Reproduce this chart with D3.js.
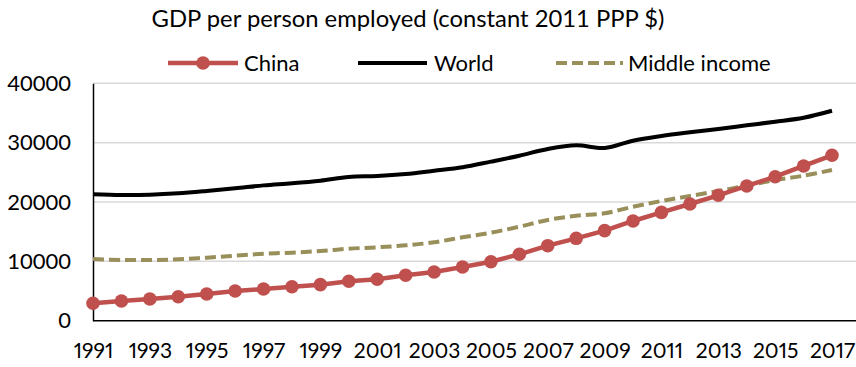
<!DOCTYPE html>
<html><head><meta charset="utf-8">
<script src="https://cdn.jsdelivr.net/npm/d3@7"></script>
<style>
html,body{margin:0;padding:0;background:#fff;}
svg{display:block;font-family:Lato, "Open Sans", sans-serif;}
.xl{font-variant-numeric: proportional-nums;}
</style></head>
<body><svg id="chart" width="856" height="367"></svg>
<script>
const years = d3.range(1991, 2018);
const xTickLabels = ["1991","1993","1995","1997","1999","2001","2003","2005","2007","2009","2011","2013","2015","2017"];
const yTicks = [0, 10000, 20000, 30000, 40000];
const chinaValues = [2930,3320,3650,4040,4500,5000,5340,5730,6070,6640,6980,7650,8200,9050,9940,11190,12640,13880,15170,16800,18260,19660,21130,22700,24260,26070,27870];
const worldValues = [21300,21180,21230,21460,21850,22300,22800,23150,23590,24210,24380,24720,25270,25850,26800,27800,28930,29550,29100,30330,31120,31740,32300,32920,33530,34200,35380];
const middleValues = [10400,10230,10230,10340,10620,10950,11290,11460,11740,12130,12370,12700,13210,14050,14830,15840,16970,17690,18100,19210,20170,21010,21850,22750,23710,24430,25390];
const seriesNames = ["China","World","Middle income"];
const titleText = "GDP per person employed (constant 2011 PPP $)";

const svg = d3.select("#chart");
const pLeft = 93, pRight = 832, gridRight = 856, pTop = 83.3, pBottom = 320.7;
const x = d3.scalePoint().domain(years).range([pLeft, pRight]);
const y = d3.scaleLinear().domain([0, 40000]).range([pBottom, pTop]);

const red = "#C0504D", olive = "#998F5A";

// title
svg.append("text").attr("x", 408).attr("y", 27).attr("text-anchor","middle")
  .attr("font-size", 23.8).attr("fill","#000").text(titleText);

// gridlines
svg.append("g").selectAll("line").data(yTicks.filter(d=>d>0)).join("line")
  .attr("x1", pLeft).attr("x2", gridRight).attr("y1", d=>y(d)).attr("y2", d=>y(d))
  .attr("stroke", "#D9D9D9").attr("stroke-width", 1.5);

// y axis
const yAxis = d3.axisLeft(y).tickValues(yTicks).tickSize(0).tickPadding(22).tickFormat(d3.format("d"));
const gy = svg.append("g").attr("transform", `translate(${pLeft},0)`).call(yAxis);
gy.select(".domain").attr("stroke","#000").attr("stroke-width",1.5);
gy.selectAll("text").attr("font-size",22).attr("font-family","Lato").attr("fill","#000");

// x axis
const xAxis = d3.axisBottom(x).tickValues(xTickLabels.map(Number)).tickSize(0).tickPadding(22).tickFormat(d=>String(d));
const gx = svg.append("g").attr("transform", `translate(0,${pBottom})`).call(xAxis);
gx.select(".domain").attr("stroke","#000").attr("stroke-width",1.5).attr("d", `M${pLeft},0H${gridRight}`);
gx.selectAll("text").attr("class","xl").attr("font-size",21).attr("font-family","Lato").attr("fill","#000");

// lines
const smooth = d3.line().x((d,i)=>x(years[i])).y(d=>y(d)).curve(d3.curveCatmullRom.alpha(0.5));
const straight = d3.line().x((d,i)=>x(years[i])).y(d=>y(d));

svg.append("path").datum(middleValues).attr("d", smooth).attr("fill","none")
  .attr("stroke", olive).attr("stroke-width", 4).attr("stroke-dasharray","11,5");
svg.append("path").datum(worldValues).attr("d", smooth).attr("fill","none")
  .attr("stroke", "#000").attr("stroke-width", 4);
svg.append("path").datum(chinaValues).attr("d", straight).attr("fill","none")
  .attr("stroke", red).attr("stroke-width", 4.5);
svg.append("g").selectAll("circle").data(chinaValues).join("circle")
  .attr("cx",(d,i)=>x(years[i])).attr("cy", d=>y(d)).attr("r", 6.8).attr("fill", red);

// legend
const ly = 63;
const leg = svg.append("g");
const legItems = [
  {name: seriesNames[0], x1: 168, x2: 238, tx: 244, color: red, dash: null, marker: true, w: 4.5},
  {name: seriesNames[1], x1: 358, x2: 427, tx: 434, color: "#000", dash: null, marker: false, w: 4},
  {name: seriesNames[2], x1: 556, x2: 623, tx: 628, color: olive, dash: "11,5", marker: false, w: 4}
];
legItems.forEach(it => {
  leg.append("line").attr("x1", it.x1).attr("x2", it.x2).attr("y1", ly).attr("y2", ly)
    .attr("stroke", it.color).attr("stroke-width", it.w).attr("stroke-dasharray", it.dash);
  if (it.marker) leg.append("circle").attr("cx", (it.x1+it.x2)/2).attr("cy", ly).attr("r", 6.8).attr("fill", it.color);
  leg.append("text").attr("x", it.tx).attr("y", ly).attr("dy","0.35em").attr("font-size",22).attr("fill","#000").text(it.name);
});
</script></body></html>
